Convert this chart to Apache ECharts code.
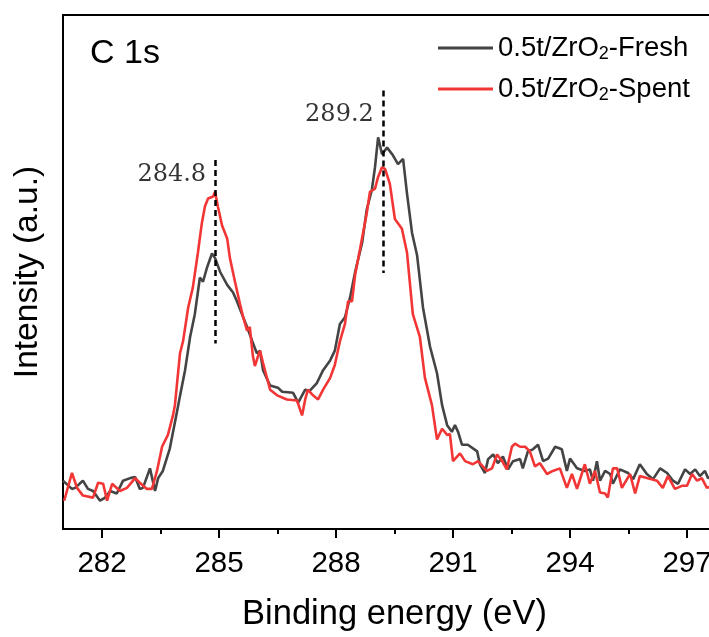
<!DOCTYPE html>
<html><head><meta charset="utf-8">
<script src="https://cdn.jsdelivr.net/npm/echarts@6/dist/echarts.min.js"></script>
<style>html,body{margin:0;padding:0;overflow:hidden;background:#fff}#c{width:740px;height:637px}</style>
</head><body><div id="c"></div>
<script>
const xTicks = [282, 285, 288, 291, 294, 297];
const xMinorTicks = [283.5, 286.5, 289.5, 292.5, 295.5];
const seriesNames = ['0.5t/ZrO2-Fresh', '0.5t/ZrO2-Spent'];

const freshE = [281.00,281.23,281.31,281.51,281.64,281.77,281.95,282.08,282.21,282.38,282.54,282.72,282.85,282.97,283.05,283.23,283.36,283.44,283.56,283.74,283.92,284.00,284.13,284.26,284.38,284.51,284.59,284.69,284.82,284.90,285.03,285.21,285.36,285.46,285.59,285.72,285.85,285.97,286.05,286.13,286.31,286.51,286.62,286.90,287.03,287.21,287.33,287.51,287.67,287.85,287.97,288.10,288.23,288.36,288.49,288.67,288.79,288.92,289.00,289.08,289.18,289.31,289.46,289.59,289.72,289.82,289.95,290.08,290.23,290.41,290.59,290.72,290.85,290.97,291.05,291.13,291.23,291.38,291.62,291.69,291.82,291.90,292.03,292.15,292.28,292.41,292.54,292.72,292.79,292.92,293.05,293.18,293.31,293.44,293.62,293.79,293.92,294.00,294.18,294.38,294.51,294.59,294.69,294.77,294.90,295.03,295.10,295.28,295.49,295.62,295.79,295.97,296.13,296.31,296.49,296.64,296.77,296.95,297.08,297.21,297.33,297.46,297.54,297.70];
const freshI = [9.4,7.8,8.0,9.4,7.8,7.4,5.5,6.1,7.4,6.9,9.4,9.9,10.1,7.8,8.0,11.8,7.4,9.9,11.3,15.7,22.7,25.9,30.9,37.4,41.8,48.9,48.1,50.8,53.6,52.7,50.0,47.5,46.0,44.3,41.8,39.3,36.6,34.2,34.7,30.9,27.9,27.5,26.7,26.5,24.6,27.1,26.9,28.4,30.9,32.8,34.7,39.9,41.2,45.0,50.0,55.7,62.2,66.0,70.4,76.2,72.9,74.2,72.7,71.0,72.0,65.3,57.6,53.2,43.1,35.5,30.3,24.1,20.2,18.9,20.2,18.9,16.4,16.4,15.1,12.6,10.9,13.6,14.5,12.8,14.1,11.6,13.2,13.6,11.8,15.1,15.5,16.4,13.2,13.7,16.0,15.5,11.3,13.7,11.8,11.3,11.6,9.4,13.2,9.4,11.3,10.7,8.8,11.6,10.9,9.7,12.6,10.7,9.7,11.8,10.9,9.4,8.8,11.6,10.7,11.6,10.3,11.3,9.9,10.5];

const spentE = [281.03,281.23,281.36,281.51,281.77,281.90,282.03,282.13,282.26,282.46,282.64,282.85,282.97,283.15,283.28,283.41,283.54,283.69,283.82,283.87,284.00,284.08,284.21,284.33,284.46,284.56,284.64,284.72,284.85,284.90,284.97,285.08,285.21,285.28,285.41,285.54,285.62,285.72,285.79,285.87,285.92,286.00,286.05,286.13,286.31,286.49,286.74,287.00,287.13,287.21,287.28,287.41,287.54,287.67,287.85,287.97,288.10,288.23,288.31,288.41,288.49,288.62,288.79,288.87,289.00,289.08,289.18,289.26,289.38,289.51,289.69,289.82,289.97,290.15,290.28,290.46,290.59,290.72,290.85,290.92,291.00,291.18,291.31,291.51,291.64,291.87,292.00,292.13,292.26,292.38,292.51,292.59,292.72,292.85,292.97,293.10,293.23,293.41,293.56,293.74,293.92,294.05,294.18,294.38,294.51,294.64,294.77,294.90,294.97,295.10,295.21,295.33,295.54,295.67,295.79,295.97,296.23,296.38,296.51,296.69,296.87,297.00,297.13,297.26,297.38,297.51,297.70];
const spentI = [5.5,10.9,8.0,6.5,6.1,9.0,8.8,5.5,8.8,7.4,8.0,9.9,9.0,7.8,7.8,11.3,16.0,18.3,22.1,24.1,34.2,36.6,43.1,47.0,53.8,59.5,62.8,64.3,64.7,65.6,62.8,59.0,56.5,52.7,48.1,43.7,41.2,38.6,39.3,33.6,31.7,33.6,34.7,32.3,27.1,26.0,25.2,25.0,22.1,25.2,27.1,26.0,25.2,27.1,29.4,31.9,36.5,39.9,44.3,44.3,49.4,54.6,61.5,65.6,66.2,68.5,70.4,70.0,67.2,60.3,58.4,53.8,41.8,37.4,29.4,24.1,17.4,19.5,18.3,18.5,13.2,14.7,13.2,12.6,13.2,11.3,11.8,14.5,13.2,11.6,16.0,16.6,16.0,16.0,15.1,12.2,12.8,10.7,11.3,11.8,8.0,10.7,7.8,12.6,8.8,11.3,7.1,6.9,6.1,11.8,11.8,8.0,10.7,6.9,10.3,9.9,9.4,8.0,10.3,7.8,8.4,8.4,10.7,9.4,9.9,8.0,8.5];

const peakPositions = [284.9, 289.2];
const peakLabels = ['284.8', '289.2'];
const peakLineTop = [71.8, 85.3];
const peakLineBottom = [36.1, 49.8];
const peakLabelY = [69.0, 80.5];

const zip = (a, b) => a.map((v, i) => [v, b[i]]);

const chart = echarts.init(document.getElementById('c'));
const axisFont = 'Liberation Sans, Arial, sans-serif';
chart.setOption({
  animation: false,
  backgroundColor: '#fff',
  title: {
    text: 'C 1s', left: 90, top: 37, padding: 0,
    textStyle: {fontSize: 34, fontWeight: 'normal', fontFamily: axisFont, color: '#000'}
  },
  legend: {
    orient: 'vertical', left: 438, top: 33, padding: 0,
    itemWidth: 55, itemHeight: 3, itemGap: 11, icon: 'rect',
    data: seriesNames,
    formatter: n => n.replace('O2', 'O{s|2}'),
    textStyle: {
      fontSize: 27.5, lineHeight: 30, fontFamily: axisFont, color: '#000',
      rich: {s: {fontSize: 18, lineHeight: 17, verticalAlign: 'bottom', fontFamily: axisFont, color: '#000'}}
    }
  },
  grid: {left: 63, top: 15, right: 14, bottom: 98, show: true, borderColor: '#000', borderWidth: 2},
  xAxis: [{
    type: 'value', min: 281, max: 298,
    axisLine: {lineStyle: {color: '#000', width: 2}},
    axisTick: {customValues: xTicks, length: 9, lineStyle: {color: '#000', width: 2}},
    axisLabel: {customValues: xTicks, fontSize: 29.5, margin: 20, color: '#000', fontFamily: axisFont},
    splitLine: {show: false},
    name: 'Binding energy (eV)', nameLocation: 'middle', nameGap: 68,
    nameTextStyle: {fontSize: 34.5, color: '#000', fontFamily: axisFont}
  }, {
    type: 'value', min: 281, max: 298, position: 'bottom',
    axisLine: {show: false},
    axisTick: {customValues: xMinorTicks, length: 5, lineStyle: {color: '#000', width: 2}},
    axisLabel: {show: false},
    splitLine: {show: false}
  }],
  yAxis: {
    type: 'value', min: 0, max: 100,
    axisLine: {show: true, lineStyle: {color: '#000', width: 2}},
    axisTick: {show: false}, axisLabel: {show: false}, splitLine: {show: false},
    name: 'Intensity (a.u.)', nameLocation: 'middle', nameGap: 18,
    nameTextStyle: {fontSize: 33.5, color: '#000', fontFamily: axisFont}
  },
  series: [{
    name: seriesNames[0], type: 'line', showSymbol: false, symbol: 'none',
    data: zip(freshE, freshI), color: '#444444',
    lineStyle: {width: 2.6, color: '#444444'}
  }, {
    name: seriesNames[1], type: 'line', showSymbol: false, symbol: 'none',
    data: zip(spentE, spentI), color: '#f23636',
    lineStyle: {width: 2.6, color: '#f23636'},
    markLine: {
      silent: true, symbol: 'none', label: {show: false},
      lineStyle: {color: '#000', type: [6, 4], width: 2.5},
      data: peakPositions.map((p, i) => [{coord: [p, peakLineTop[i]]}, {coord: [p, peakLineBottom[i]]}])
    }
  }, {
    name: 'annot', type: 'scatter', symbolSize: 0, silent: true,
    data: peakPositions.map((p, i) => ({value: [p, peakLabelY[i]], label: {formatter: peakLabels[i]}})),
    label: {show: true, position: 'left', distance: 9, fontSize: 24, color: '#000',
      fontFamily: 'DejaVu Serif, Liberation Serif, serif'}
  }]
});
</script></body></html>
